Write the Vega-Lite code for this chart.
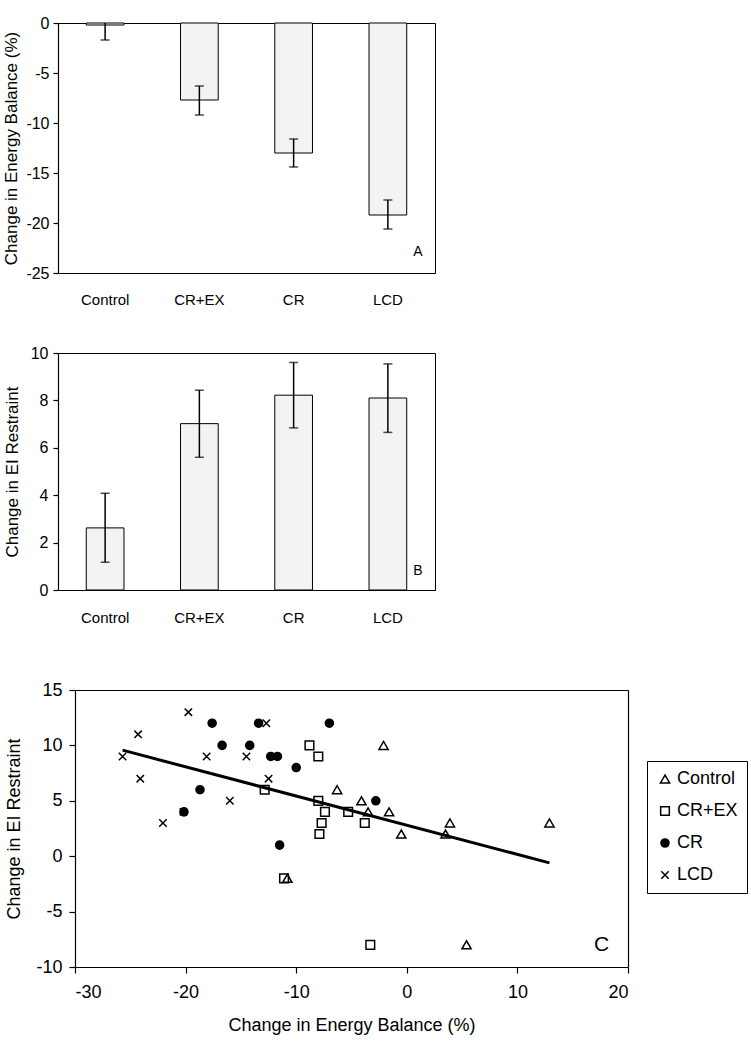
{
  "$schema": "https://vega.github.io/schema/vega-lite/v6.json",
  "background": "white",
  "padding": {"left": 2, "top": 14, "right": 5, "bottom": 5},
  "config": {
    "font": "Liberation Sans",
    "view": {"stroke": "black", "strokeWidth": 1},
    "axis": {
      "grid": false,
      "domainColor": "black",
      "domainWidth": 1.2,
      "tickColor": "black",
      "tickWidth": 1.2,
      "labelColor": "black",
      "titleColor": "black",
      "titleFontWeight": "normal",
      "labelFont": "Liberation Sans",
      "titleFont": "Liberation Sans"
    },
    "legend": {"labelFont": "Liberation Sans"}
  },
  "spacing": 55,
  "vconcat": [
    {
      "spacing": 36,
      "vconcat": [
        {
          "width": 377,
          "height": 250,
          "data": {
            "values": [
              {"group": "Control", "mean": -0.2, "lo": -1.7, "hi": 1.3},
              {"group": "CR+EX", "mean": -7.7, "lo": -9.2, "hi": -6.3},
              {"group": "CR", "mean": -13.0, "lo": -14.4, "hi": -11.6},
              {"group": "LCD", "mean": -19.2, "lo": -20.6, "hi": -17.7}
            ]
          },
          "encoding": {
            "x": {
              "field": "group",
              "type": "nominal",
              "sort": ["Control", "CR+EX", "CR", "LCD"],
              "scale": {"paddingInner": 0.6, "paddingOuter": 0.3},
              "axis": {"title": null, "labelAngle": 0, "ticks": false, "tickSize": 0, "labelPadding": 19, "labelFontSize": 15}
            }
          },
          "layer": [
            {
              "mark": {"type": "bar", "fill": "#f3f3f3", "stroke": "black", "strokeWidth": 1},
              "encoding": {
                "y": {
                  "field": "mean",
                  "type": "quantitative",
                  "title": "Change in Energy Balance (%)",
                  "scale": {"domain": [-25, 0], "nice": false},
                  "axis": {
                    "values": [0, -5, -10, -15, -20, -25],
                    "tickSize": 5,
                    "labelPadding": 4,
                    "labelFontSize": 16,
                    "titleFontSize": 17,
                    "titlePadding": 5,
                    "labelExpr": "replace(datum.label, '\u2212', '-')"
                  }
                }
              }
            },
            {
              "mark": {"type": "rule", "color": "black", "strokeWidth": 1.5, "clip": true},
              "encoding": {
                "y": {"field": "lo", "type": "quantitative", "title": "Change in Energy Balance (%)"},
                "y2": {"field": "hi"}
              }
            },
            {
              "mark": {"type": "tick", "color": "black", "size": 9, "thickness": 1.5, "clip": true},
              "encoding": {"y": {"field": "lo", "type": "quantitative", "title": "Change in Energy Balance (%)"}}
            },
            {
              "mark": {"type": "tick", "color": "black", "size": 9, "thickness": 1.5, "clip": true},
              "encoding": {"y": {"field": "hi", "type": "quantitative", "title": "Change in Energy Balance (%)"}}
            },
            {
              "data": {"values": [{"group": "LCD", "mean": -22.9, "label": "A"}]},
              "mark": {"type": "text", "dx": 30, "fontSize": 14, "color": "black"},
              "encoding": {
                "y": {"field": "mean", "type": "quantitative", "title": "Change in Energy Balance (%)"},
                "text": {"field": "label"}
              }
            }
          ]
        },
        {
          "width": 377,
          "height": 237,
          "data": {
            "values": [
              {"group": "Control", "mean": 2.62, "lo": 1.17, "hi": 4.08},
              {"group": "CR+EX", "mean": 7.02, "lo": 5.6, "hi": 8.43},
              {"group": "CR", "mean": 8.22, "lo": 6.84, "hi": 9.6},
              {"group": "LCD", "mean": 8.1, "lo": 6.65, "hi": 9.54}
            ]
          },
          "encoding": {
            "x": {
              "field": "group",
              "type": "nominal",
              "sort": ["Control", "CR+EX", "CR", "LCD"],
              "scale": {"paddingInner": 0.6, "paddingOuter": 0.3},
              "axis": {"title": null, "labelAngle": 0, "ticks": false, "tickSize": 0, "labelPadding": 20, "labelFontSize": 15}
            }
          },
          "layer": [
            {
              "mark": {"type": "bar", "fill": "#f3f3f3", "stroke": "black", "strokeWidth": 1},
              "encoding": {
                "y": {
                  "field": "mean",
                  "type": "quantitative",
                  "title": "Change in EI Restraint",
                  "scale": {"domain": [0, 10], "nice": false},
                  "axis": {
                    "values": [0, 2, 4, 6, 8, 10],
                    "tickSize": 5,
                    "labelPadding": 5,
                    "labelFontSize": 16,
                    "titleFontSize": 17,
                    "titlePadding": 9
                  }
                }
              }
            },
            {
              "mark": {"type": "rule", "color": "black", "strokeWidth": 1.5},
              "encoding": {
                "y": {"field": "lo", "type": "quantitative", "title": "Change in EI Restraint"},
                "y2": {"field": "hi"}
              }
            },
            {
              "mark": {"type": "tick", "color": "black", "size": 9, "thickness": 1.5},
              "encoding": {"y": {"field": "lo", "type": "quantitative", "title": "Change in EI Restraint"}}
            },
            {
              "mark": {"type": "tick", "color": "black", "size": 9, "thickness": 1.5},
              "encoding": {"y": {"field": "hi", "type": "quantitative", "title": "Change in EI Restraint"}}
            },
            {
              "data": {"values": [{"group": "LCD", "mean": 0.8, "label": "B"}]},
              "mark": {"type": "text", "dx": 30, "fontSize": 14, "color": "black"},
              "encoding": {
                "y": {"field": "mean", "type": "quantitative", "title": "Change in EI Restraint"},
                "text": {"field": "label"}
              }
            }
          ]
        }
      ]
    },
    {
      "width": 570,
      "height": 277,
      "view": {"stroke": null},
      "resolve": {"axis": {"x": "independent", "y": "independent"}},
      "layer": [
        {
          "data": {
            "values": [
              {"grp": "Control", "x": -10.8, "y": -2},
              {"grp": "Control", "x": -2.1, "y": 10},
              {"grp": "Control", "x": -6.3, "y": 6},
              {"grp": "Control", "x": -4.1, "y": 5},
              {"grp": "Control", "x": -3.5, "y": 4},
              {"grp": "Control", "x": -1.6, "y": 4},
              {"grp": "Control", "x": -0.5, "y": 2},
              {"grp": "Control", "x": 3.9, "y": 3},
              {"grp": "Control", "x": 3.5, "y": 2},
              {"grp": "Control", "x": 12.9, "y": 3},
              {"grp": "Control", "x": 5.4, "y": -8},
              {"grp": "CR+EX", "x": -12.85, "y": 6},
              {"grp": "CR+EX", "x": -8.8, "y": 10},
              {"grp": "CR+EX", "x": -8.0, "y": 9},
              {"grp": "CR+EX", "x": -8.0, "y": 5},
              {"grp": "CR+EX", "x": -7.4, "y": 4},
              {"grp": "CR+EX", "x": -7.7, "y": 3},
              {"grp": "CR+EX", "x": -7.9, "y": 2},
              {"grp": "CR+EX", "x": -5.3, "y": 4},
              {"grp": "CR+EX", "x": -3.8, "y": 3},
              {"grp": "CR+EX", "x": -3.3, "y": -8},
              {"grp": "CR+EX", "x": -11.1, "y": -2},
              {"grp": "CR", "x": -17.6, "y": 12},
              {"grp": "CR", "x": -13.4, "y": 12},
              {"grp": "CR", "x": -16.7, "y": 10},
              {"grp": "CR", "x": -14.2, "y": 10},
              {"grp": "CR", "x": -12.3, "y": 9},
              {"grp": "CR", "x": -11.7, "y": 9},
              {"grp": "CR", "x": -10.0, "y": 8},
              {"grp": "CR", "x": -18.7, "y": 6},
              {"grp": "CR", "x": -20.15, "y": 4},
              {"grp": "CR", "x": -11.5, "y": 1},
              {"grp": "CR", "x": -7.0, "y": 12},
              {"grp": "CR", "x": -2.8, "y": 5},
              {"grp": "LCD", "x": -19.75, "y": 13},
              {"grp": "LCD", "x": -24.3, "y": 11},
              {"grp": "LCD", "x": -25.7, "y": 9},
              {"grp": "LCD", "x": -24.1, "y": 7},
              {"grp": "LCD", "x": -22.05, "y": 3},
              {"grp": "LCD", "x": -20.2, "y": 4},
              {"grp": "LCD", "x": -18.1, "y": 9},
              {"grp": "LCD", "x": -16.0, "y": 5},
              {"grp": "LCD", "x": -14.5, "y": 9},
              {"grp": "LCD", "x": -12.7, "y": 12},
              {"grp": "LCD", "x": -12.5, "y": 7}
            ]
          },
          "mark": {"type": "point", "stroke": "black", "strokeWidth": 1.5, "opacity": 1},
          "encoding": {
            "x": {
              "field": "x",
              "type": "quantitative",
              "title": "Change in Energy Balance (%)",
              "scale": {"domain": [-30, 20], "range": [17, 570], "nice": false, "zero": false},
              "axis": {
                "values": [-30, -20, -10, 0, 10, 20],
                "tickSize": 6,
                "labelPadding": 10,
                "labelFontSize": 18,
                "titleFontSize": 18,
                "titlePadding": 15,
                "labelExpr": "replace(datum.label, '\u2212', '-')"
              }
            },
            "y": {
              "field": "y",
              "type": "quantitative",
              "title": "Change in EI Restraint",
              "scale": {"domain": [-10, 15], "nice": false, "zero": false},
              "axis": {
                "values": [-10, -5, 0, 5, 10, 15],
                "offset": -17,
                "tickSize": 6,
                "labelPadding": 7,
                "labelFontSize": 18,
                "titleFontSize": 18,
                "titlePadding": 12,
                "labelExpr": "replace(datum.label, '\u2212', '-')"
              }
            },
            "shape": {
              "field": "grp",
              "type": "nominal",
              "scale": {
                "domain": ["Control", "CR+EX", "CR", "LCD"],
                "range": ["triangle-up", "square", "circle", "M-1,-1L1,1M1,-1L-1,1"]
              },
              "legend": {
                "title": null,
                "orient": "none",
                "legendX": 589,
                "legendY": 738,
                "strokeColor": "black",
                "padding": 9,
                "labelFontSize": 18,
                "labelOffset": 3,
                "rowPadding": 14,
                "encode": {"symbols": {"update": {"stroke": {"value": "black"}, "strokeWidth": {"value": 1.2}}}}
              }
            },
            "fill": {
              "field": "grp",
              "type": "nominal",
              "scale": {
                "domain": ["Control", "CR+EX", "CR", "LCD"],
                "range": ["transparent", "transparent", "black", "transparent"]
              },
              "legend": {
                "title": null,
                "orient": "none",
                "legendX": 589,
                "legendY": 738,
                "strokeColor": "black",
                "padding": 9,
                "labelFontSize": 18,
                "labelOffset": 3,
                "rowPadding": 14,
                "encode": {"symbols": {"update": {"stroke": {"value": "black"}, "strokeWidth": {"value": 1.2}}}}
              }
            },
            "size": {
              "field": "grp",
              "type": "nominal",
              "scale": {
                "domain": ["Control", "CR+EX", "CR", "LCD"],
                "range": [85, 55, 60, 100]
              },
              "legend": {
                "title": null,
                "orient": "none",
                "legendX": 589,
                "legendY": 738,
                "strokeColor": "black",
                "padding": 9,
                "labelFontSize": 18,
                "labelOffset": 3,
                "rowPadding": 14,
                "encode": {"symbols": {"update": {"stroke": {"value": "black"}, "strokeWidth": {"value": 1.2}}}}
              }
            }
          }
        },
        {
          "data": {"values": [{"x": -25.7, "y": 9.57}, {"x": 12.9, "y": -0.6}]},
          "mark": {"type": "line", "color": "black", "strokeWidth": 3},
          "encoding": {
            "x": {
              "field": "x",
              "type": "quantitative",
              "axis": {"orient": "top", "labels": false, "ticks": false, "title": null, "domain": true}
            },
            "y": {
              "field": "y",
              "type": "quantitative",
              "axis": {"orient": "right", "labels": false, "ticks": false, "title": null, "domain": true}
            }
          }
        },
        {
          "data": {"values": [{"x": 17.6, "y": -8, "label": "C"}]},
          "mark": {"type": "text", "fontSize": 21, "color": "black"},
          "encoding": {
            "x": {"field": "x", "type": "quantitative", "axis": null},
            "y": {"field": "y", "type": "quantitative", "axis": null},
            "text": {"field": "label"}
          }
        }
      ]
    }
  ]
}
